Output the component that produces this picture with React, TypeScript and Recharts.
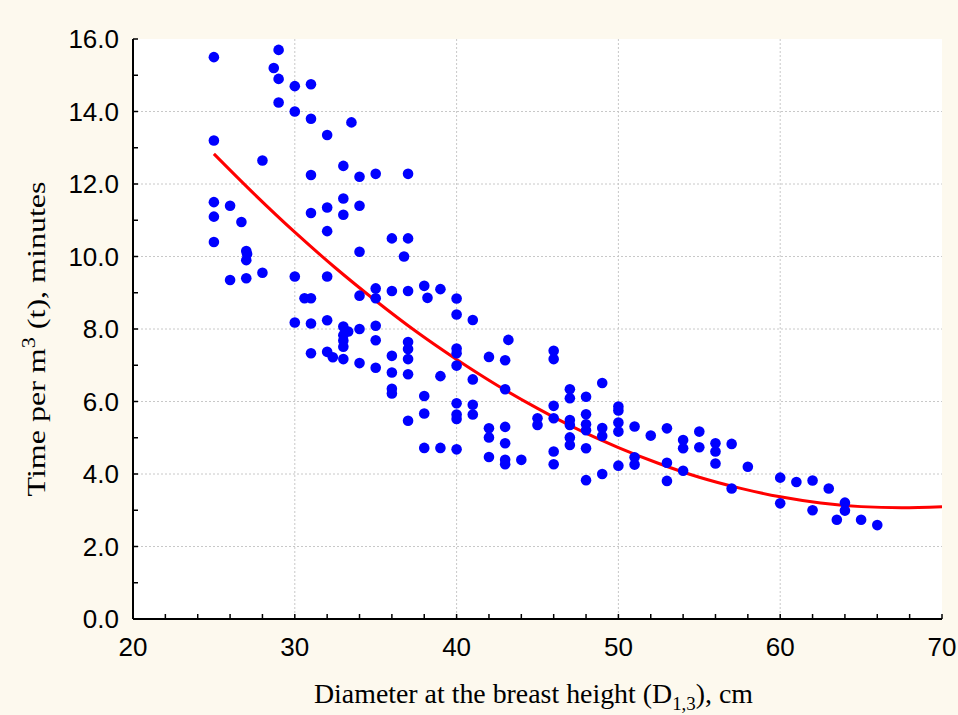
import React from 'react';
import { ComposedChart, Scatter, Line, XAxis, YAxis, CartesianGrid } from 'recharts';

// observed trees: [diameter D1,3 (cm), time per m3 (min)]
const observed: [number, number][] = [
  [25, 15.5], [29, 15.7], [28.7, 15.2], [29, 14.9], [30, 14.7], [31, 14.75], [29, 14.25], [30, 14.0],
  [31, 13.8], [33.5, 13.7], [32, 13.35], [25, 13.2], [28, 12.65], [33, 12.5], [31, 12.25], [34, 12.2],
  [35, 12.28], [37, 12.28], [25, 11.5], [26, 11.4], [25, 11.1], [26.7, 10.95], [31, 11.2], [32, 11.35],
  [33, 11.6], [33, 11.15], [34, 11.4], [32, 10.7], [25, 10.4], [27, 10.15], [27.05, 10.07], [27, 9.9],
  [34, 10.13], [36, 10.5], [37, 10.5], [36.75, 10.0], [26, 9.35], [27, 9.4], [28, 9.55], [30, 9.45],
  [32, 9.45], [35, 9.12], [36, 9.05], [37, 9.05], [38, 9.19], [39, 9.1],
  [35, 8.85], [34, 8.92], [38.2, 8.86], [40, 8.84], [40, 8.4], [41, 8.25], [30.6, 8.85], [31, 8.85],
  [30, 8.18], [31, 8.15], [32, 8.24], [33, 8.07], [33.3, 7.93], [33, 7.83], [33, 7.68], [33, 7.51],
  [34, 8.0], [35, 8.09], [35, 7.69], [31, 7.33], [32, 7.37], [32.35, 7.22], [33, 7.17], [34, 7.06],
  [35, 6.93], [36, 7.26], [36, 6.8], [37, 7.64], [37, 7.45], [37, 7.17], [37, 6.75], [40, 7.46],
  [40, 7.33], [40, 6.99], [39, 6.7], [41, 6.61], [42, 7.23], [36, 6.35], [36, 6.22], [38, 6.15],
  [38, 5.67], [37, 5.47], [40, 5.95], [40, 5.64], [40, 5.52], [41, 5.91], [41, 5.64], [42, 5.26],
  [42, 5.01], [38, 4.72], [39, 4.72], [40, 4.68], [42, 4.47],
  [43.2, 7.7], [43, 7.14], [46, 7.4], [46, 7.17], [43, 6.34], [43, 5.3], [43, 4.85], [43, 4.39],
  [43, 4.27], [44, 4.39], [45, 5.54], [45, 5.35], [46, 5.88], [46, 5.54], [46, 4.62], [46, 4.27],
  [47, 6.34], [47, 6.09], [47, 5.49], [47, 5.35], [47, 5.01], [47, 4.8], [48, 6.13], [48, 5.65],
  [48, 5.37], [48, 5.21], [48, 4.71], [48, 3.83], [49, 6.51], [49, 5.27], [49, 5.05], [49, 4.0],
  [50, 5.86], [50, 5.75], [50, 5.42], [50, 5.17], [50, 4.23], [51, 5.31], [51, 4.46], [51, 4.26],
  [52, 5.06], [53, 5.26], [53, 4.31], [53, 3.81], [54, 4.94], [54, 4.71], [54, 4.09], [55, 5.17],
  [55, 4.74], [56, 4.85], [56, 4.62], [56, 4.29], [57, 4.83], [57, 3.6],
  [58, 4.2], [60, 3.9], [60, 3.19], [61, 3.78], [62, 3.82], [62, 3.0], [63, 3.6], [63.5, 2.74],
  [64, 3.21], [64, 2.99], [65, 2.74], [66, 2.59],
];

// fitted curve
const fitDiameter = [25, 27.5, 30, 32.5, 35, 37.5, 40, 42.5, 45, 47.5, 50, 52.5, 55, 57.5, 60, 62.5, 65, 67.5, 70];
const fitTime = [12.83, 11.72, 10.67, 9.69, 8.78, 7.93, 7.16, 6.45, 5.81, 5.23, 4.73, 4.29, 3.91, 3.61, 3.37, 3.2, 3.1, 3.07, 3.1];

const xTicks = [20, 22, 24, 26, 28, 30, 32, 34, 36, 38, 40, 42, 44, 46, 48, 50, 52, 54, 56, 58, 60, 62, 64, 66, 68, 70];
const yTicks = [0, 1, 2, 3, 4, 5, 6, 7, 8, 9, 10, 11, 12, 13, 14, 15, 16];
const xGrid = [30, 40, 50, 60];
const yGrid = [2, 4, 6, 8, 10, 12, 14];

const scatterData = observed.map(([x, y]) => ({ x, y }));
const curveData = fitDiameter.map((x, i) => ({ x, y: fitTime[i] }));

const SANS = '"Liberation Sans", Arial, sans-serif';
const SERIF = '"Liberation Serif", "Times New Roman", serif';
const TICK = 5;

const BottomTick = ({ x, y, payload }: any) => (
  <g>
    <line x1={x} y1={y} x2={x} y2={y - TICK} stroke="#000" strokeWidth={1.5} />
    {payload.value % 10 === 0 && (
      <text x={x} y={y + 37} textAnchor="middle" fontFamily={SANS} fontSize={26} fill="#000">
        {payload.value}
      </text>
    )}
  </g>
);

const LeftTick = ({ x, y, payload }: any) => (
  <g>
    <line x1={x} y1={y} x2={x + TICK} y2={y} stroke="#000" strokeWidth={1.5} />
    {payload.value % 2 === 0 && (
      <text x={x - 14} y={y + 9} textAnchor="end" fontFamily={SANS} fontSize={26} fill="#000">
        {payload.value.toFixed(1)}
      </text>
    )}
  </g>
);

const TopTick = ({ x, y }: any) => <line x1={x} y1={y} x2={x} y2={y + TICK} stroke="#000" strokeWidth={1.5} />;
const RightTick = ({ x, y }: any) => <line x1={x} y1={y} x2={x - TICK} y2={y} stroke="#000" strokeWidth={1.5} />;

const XLabel = ({ viewBox }: any) => {
  const cx = viewBox.x + viewBox.width / 2 - 4;
  const by = viewBox.y + 84;
  return (
    <text x={cx} y={by} textAnchor="middle" fontFamily={SERIF} fontSize={28} fill="#000" textLength={439} lengthAdjust="spacingAndGlyphs">
      Diameter at the breast height (D
      <tspan dy={7} fontSize={19}>1,3</tspan>
      <tspan dy={-7}>), cm</tspan>
    </text>
  );
};

const YLabel = ({ viewBox }: any) => {
  const bx = 45;
  const cy = viewBox.y + viewBox.height / 2 + 10;
  return (
    <text x={bx} y={cy} transform={`rotate(-90, ${bx}, ${cy})`} textAnchor="middle" fontFamily={SERIF} fontSize={26} fill="#000" textLength={315} lengthAdjust="spacingAndGlyphs">
      Time per m
      <tspan dy={-10} fontSize={18}>3</tspan>
      <tspan dy={10}> (t), minutes</tspan>
    </text>
  );
};

const Dot = ({ cx, cy }: any) => <circle cx={cx} cy={cy} r={5.3} fill="#0000FF" />;

const axisLine = { stroke: '#000', strokeWidth: 2 };

export default function App() {
  return (
    <div style={{ position: 'absolute', left: 0, top: 0, width: 958, height: 715, background: '#FDF9EE' }}>
      <ComposedChart width={958} height={715} margin={{ top: 39, right: 16, bottom: 0, left: 0 }}>
        <CartesianGrid
          fill="#FFFFFF"
          stroke="#C8C8C8"
          strokeDasharray="2 2"
          verticalValues={xGrid}
          horizontalValues={yGrid}
        />
        <XAxis
          dataKey="x"
          type="number"
          domain={[20, 70]}
          ticks={xTicks}
          interval={0}
          height={96}
          tickSize={0}
          tickMargin={0}
          tick={<BottomTick />}
          axisLine={axisLine}
          allowDataOverflow
          label={{ content: XLabel }}
        />
        <XAxis
          xAxisId="top"
          orientation="top"
          type="number"
          domain={[20, 70]}
          ticks={xTicks}
          interval={0}
          height={0}
          tickSize={0}
          tickMargin={0}
          tick={<TopTick />}
          axisLine={axisLine}
          allowDataOverflow
        />
        <YAxis
          dataKey="y"
          type="number"
          domain={[0, 16]}
          ticks={yTicks}
          interval={0}
          width={133}
          tickSize={0}
          tickMargin={0}
          tick={<LeftTick />}
          axisLine={axisLine}
          allowDataOverflow
          label={{ content: YLabel }}
        />
        <YAxis
          yAxisId="right"
          orientation="right"
          type="number"
          domain={[0, 16]}
          ticks={yTicks}
          interval={0}
          width={0}
          tickSize={0}
          tickMargin={0}
          tick={<RightTick />}
          axisLine={axisLine}
          allowDataOverflow
        />
        <Scatter data={scatterData} dataKey="y" shape={<Dot />} isAnimationActive={false} />
        <Line
          data={curveData}
          dataKey="y"
          type="monotone"
          stroke="#FF0000"
          strokeWidth={3}
          dot={false}
          activeDot={false}
          isAnimationActive={false}
        />
      </ComposedChart>
    </div>
  );
}
